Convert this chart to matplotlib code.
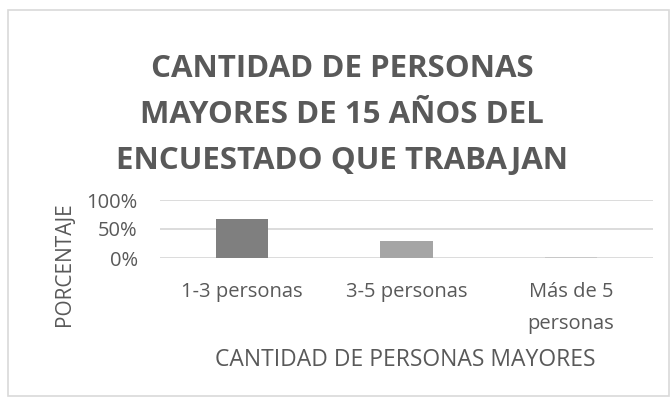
import matplotlib.pyplot as plt
from matplotlib.patches import Rectangle
from matplotlib.ticker import PercentFormatter

plt.rcParams['font.family'] = ['Open Sans', 'DejaVu Sans']

categories = ['1-3 personas', '3-5 personas', 'Más de 5\npersonas']
values = [0.68, 0.29, 0.01]
bar_colors = ['#7f7f7f', '#a5a5a5', '#c8c8c8']
yticks = [0, 0.5, 1.0]

title = 'CANTIDAD DE PERSONAS\nMAYORES DE 15 AÑOS DEL\nENCUESTADO QUE TRABAJAN'
xlabel = 'CANTIDAD DE PERSONAS MAYORES'
ylabel = 'PORCENTAJE'

text_color = '#595959'
grid_color = '#d9d9d9'

fig = plt.figure(figsize=(6.7, 4), dpi=100)
W, H = 670, 400

# chart frame
fig.patches.append(Rectangle((8 / W, 4 / H), 661 / W, 386 / H, transform=fig.transFigure,
                             fill=False, edgecolor='#d9d9d9', linewidth=1.2))

ax = fig.add_axes([160 / W, 1 - 258 / H, 493 / W, 58 / H])
x = range(len(categories))
ax.bar(x, values, width=0.32, color=bar_colors, zorder=3)
ax.set_xlim(-0.5, len(categories) - 0.5)
ax.set_ylim(0, 1)
ax.set_yticks(yticks)
ax.yaxis.set_major_formatter(PercentFormatter(1.0, decimals=0))
ax.set_xticks(list(x))
ax.set_xticklabels(categories, va='top', linespacing=1.8)
ax.grid(axis='y', color=grid_color, linewidth=1.3, zorder=0)
for s in ax.spines.values():
    s.set_visible(False)
ax.tick_params(axis='both', length=0, labelsize=14.5, labelcolor=text_color)
ax.tick_params(axis='x', pad=17)
ax.tick_params(axis='y', pad=16)

# axis titles
fig.text(405 / W, 1 - 360 / H, xlabel, ha='center', va='center', fontsize=16.5,
         color=text_color)
fig.text(64 / W, 1 - 264 / H, ylabel, ha='center', va='center', rotation=90,
         fontsize=15, color=text_color)

fig.text(342 / W, 1 - 115 / H, title, ha='center', va='center', fontsize=22.5,
         fontweight='bold', color=text_color, linespacing=1.68)

fig.savefig('out.png', dpi=100, facecolor='white')
